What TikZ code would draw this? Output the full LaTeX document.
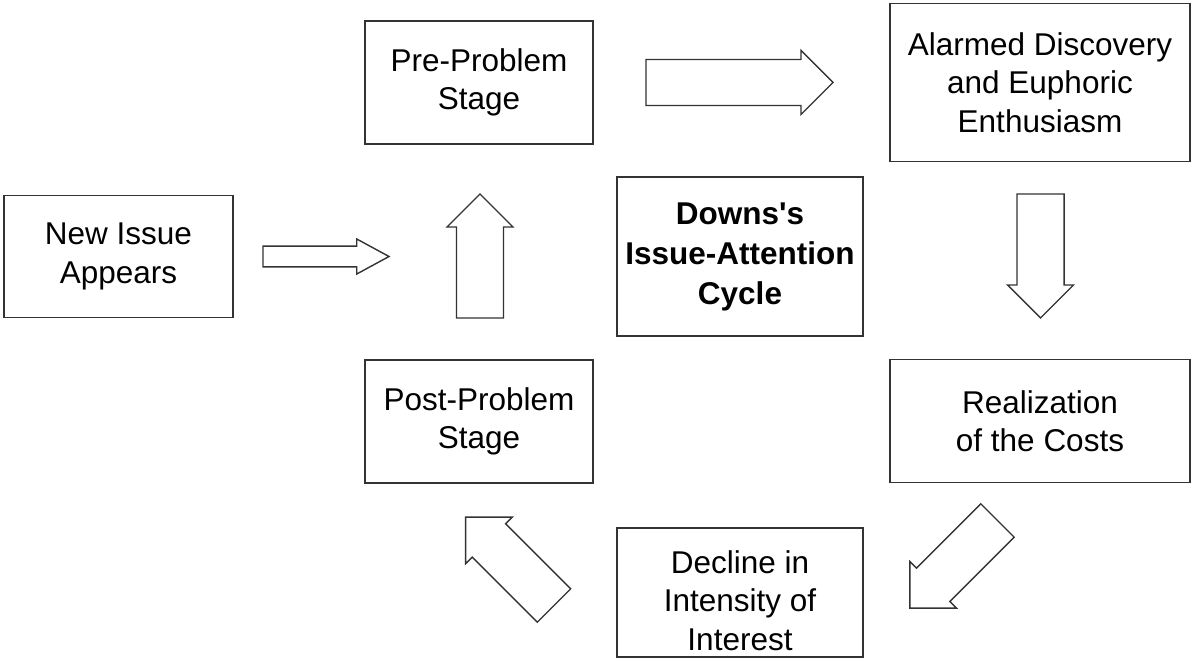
\documentclass[tikz,border=0pt]{standalone}
\usepackage{fontspec}
\setmainfont{Liberation Sans}[Ligatures=TeXOff]
\usetikzlibrary{shapes.arrows, positioning}

\begin{document}
\begin{tikzpicture}[
    x=1pt, y=-1pt,
    box/.style={rectangle, draw=black!80, line width=1.5pt, align=center, outer sep=0pt,
        font=\fontsize{31.5}{38.5}\selectfont},
    blockarrow/.style={single arrow, draw=black!80, line width=1.4pt, fill=white,
        text height=0pt, text depth=0pt, inner xsep=0pt, inner ysep=17pt, outer sep=0pt,
        minimum width=66pt, single arrow tip angle=90, anchor=tail}
]
\useasboundingbox (0,0) rectangle (1192,660);

% centre title
\node[box, minimum width=246pt, minimum height=159pt, font=\fontsize{31.5}{40}\selectfont\bfseries] (downs) at (740,256.5) {Downs's\\Issue-Attention\\Cycle};

% stages around it
\node[box, minimum width=229pt, minimum height=122pt, left=384pt of downs] (newissue) {New Issue\\Appears};
\node[box, minimum width=228pt, minimum height=123pt] (preprob) at (479,82.5) {Pre-Problem\\Stage};
\node[box, minimum width=300pt, minimum height=158pt, right=297pt of preprob] (alarmed) {Alarmed Discovery\\and Euphoric\\Enthusiasm};
\node[box, minimum width=300pt, minimum height=123pt, below=198pt of alarmed] (realize) {Realization\\of the Costs};
\node[box, minimum width=246pt, minimum height=129pt, below=192pt of downs] (decline) {};
\node[box, draw=none, inner sep=0pt] (declinetext) at ([yshift=-8pt]decline.center) {Decline in\\Intensity of\\Interest};
\node[box, minimum width=228pt, minimum height=123pt, below=216pt of preprob] (postprob) {Post-Problem\\Stage};

% block arrows
\node[blockarrow, minimum height=126pt, inner ysep=9.5pt, minimum width=35pt, single arrow tip angle=57] (newToPre) at (263,256.5) {};
\node[blockarrow, minimum height=187pt, inner ysep=17.5pt, minimum width=64pt] (preToAlarm) at (646,82.5) {};
\node[blockarrow, minimum height=124pt, rotate=-90] (alarmToReal) at (1040.5,194) {};
\node[blockarrow, minimum height=124pt, rotate=225] (realToDecl) at (997.5,520.5) {};
\node[blockarrow, minimum height=125pt, rotate=135] (declToPost) at (554,605.5) {};
\node[blockarrow, minimum height=124pt, rotate=90] (postToPre) at (480,318) {};

\end{tikzpicture}
\end{document}
